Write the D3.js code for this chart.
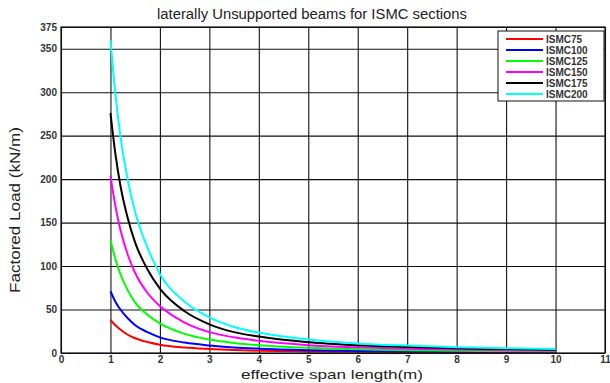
<!DOCTYPE html>
<html>
<head>
<meta charset="utf-8">
<script src="https://cdn.jsdelivr.net/npm/d3@7"></script>
<style>
  body { margin: 0; background: #fff; }
  text { font-family: "Liberation Sans", Arial, sans-serif; }
</style>
</head>
<body>
<svg id="chart" width="610" height="383"></svg>
<script>
// span lengths (m) where the curves were read
var spans = [1, 1.1, 1.2, 1.35, 1.5, 1.75, 2, 2.5, 3, 3.5, 4, 5, 6, 7, 8, 9, 10];

var sectionNames = ["ISMC75", "ISMC100", "ISMC125", "ISMC150", "ISMC175", "ISMC200"];
var sectionColors = ["#ff0000", "#0000ff", "#00ff00", "#ff00ff", "#000000", "#00ffff"];

// factored load (kN/m)
var ismc75  = [38, 32, 27, 21, 17, 12.6, 9.5, 6.3, 4.6, 3.4, 2.6, 1.8, 1.3, 1, 0.8, 0.7, 0.6];
var ismc100 = [71, 59, 50, 40, 32, 24, 18, 12, 8.6, 6.4, 5, 3.3, 2.4, 1.8, 1.5, 1.2, 1];
var ismc125 = [130, 108, 91, 72, 58, 44, 34, 22, 15.5, 11.5, 9, 6, 4.3, 3.2, 2.6, 2.1, 1.8];
var ismc150 = [204, 169, 142, 113, 92, 69, 54, 35, 24, 18, 14, 9, 6.5, 5, 4, 3.3, 2.8];
var ismc175 = [276, 229, 193, 155, 127, 96, 74, 48, 33, 24, 19, 12.5, 9, 7, 5.5, 4.5, 3.6];
var ismc200 = [360, 298, 250, 199, 162, 121, 91, 59, 41, 30, 23.5, 15.5, 11, 8.5, 6.7, 5.5, 4.5];
var seriesValues = [ismc75, ismc100, ismc125, ismc150, ismc175, ismc200];

var xTicks = [0, 1, 2, 3, 4, 5, 6, 7, 8, 9, 10, 11];
var yTicks = [0, 50, 100, 150, 200, 250, 300, 350, 375];

var svg = d3.select("#chart");
var plotLeft = 61, plotRight = 605, plotTop = 27, plotBottom = 353;

var x = d3.scaleLinear().domain([0, 11]).range([plotLeft, plotRight]);
var y = d3.scaleLinear().domain([0, 375]).range([plotBottom, plotTop]);

// grid
svg.append("g")
  .attr("transform", "translate(0," + plotBottom + ")")
  .call(d3.axisBottom(x).tickValues(xTicks).tickSize(-(plotBottom - plotTop)).tickFormat(""))
  .call(function(g) {
    g.select(".domain").remove();
    g.selectAll("line").attr("stroke", "#111").attr("stroke-width", 1.1);
  });
svg.append("g")
  .attr("transform", "translate(" + plotLeft + ",0)")
  .call(d3.axisLeft(y).tickValues(yTicks).tickSize(-(plotRight - plotLeft)).tickFormat(""))
  .call(function(g) {
    g.select(".domain").remove();
    g.selectAll("line").attr("stroke", "#111").attr("stroke-width", 1.1);
  });

// tick labels
svg.append("g")
  .attr("transform", "translate(0," + plotBottom + ")")
  .call(d3.axisBottom(x).tickValues(xTicks).tickSize(0).tickPadding(3).tickFormat(d3.format("d")))
  .call(function(g) {
    g.select(".domain").remove();
    g.selectAll("text").attr("font-size", 10).attr("fill", "#333")
      .attr("font-family", "Liberation Sans, Arial, sans-serif").attr("font-weight", "bold");
  });
svg.append("g")
  .attr("transform", "translate(" + plotLeft + ",0)")
  .call(d3.axisLeft(y).tickValues(yTicks).tickSize(0).tickPadding(4).tickFormat(d3.format("d")))
  .call(function(g) {
    g.select(".domain").remove();
    g.selectAll("text").attr("font-size", 10).attr("fill", "#333")
      .attr("font-family", "Liberation Sans, Arial, sans-serif").attr("font-weight", "bold");
  });

// curves
var line = d3.line()
  .x(function(d) { return x(d[0]); })
  .y(function(d) { return y(d[1]); })
  .curve(d3.curveMonotoneX);

seriesValues.forEach(function(vals, i) {
  svg.append("path")
    .datum(spans.map(function(s, j) { return [s, vals[j]]; }))
    .attr("fill", "none")
    .attr("stroke", sectionColors[i])
    .attr("stroke-width", 2)
    .attr("d", line);
});

// frame
svg.append("rect")
  .attr("x", plotLeft).attr("y", plotTop)
  .attr("width", plotRight - plotLeft).attr("height", plotBottom - plotTop)
  .attr("fill", "none").attr("stroke", "#111").attr("stroke-width", 1.2);

// legend
var legend = svg.append("g").attr("transform", "translate(498,31)");
legend.append("rect")
  .attr("width", 106).attr("height", 70)
  .attr("fill", "#fff").attr("stroke", "#111").attr("stroke-width", 1);
sectionNames.forEach(function(name, i) {
  var yy = 8 + i * 11;
  legend.append("line")
    .attr("x1", 8).attr("x2", 45).attr("y1", yy).attr("y2", yy)
    .attr("stroke", sectionColors[i]).attr("stroke-width", 2);
  legend.append("text")
    .attr("x", 48).attr("y", yy + 4)
    .attr("font-size", 10).attr("fill", "#333").attr("font-weight", "bold")
    .text(name);
});

// titles
svg.append("text")
  .attr("x", 312).attr("y", 19)
  .attr("text-anchor", "middle").attr("font-size", 14).attr("fill", "#222")
  .attr("textLength", 310).attr("lengthAdjust", "spacingAndGlyphs")
  .text("laterally Unsupported beams for ISMC sections");

svg.append("text")
  .attr("x", 332).attr("y", 379)
  .attr("text-anchor", "middle").attr("font-size", 13).attr("fill", "#222")
  .attr("textLength", 182).attr("lengthAdjust", "spacingAndGlyphs")
  .text("effective span length(m)");

svg.append("text")
  .attr("transform", "translate(20,210) rotate(-90)")
  .attr("text-anchor", "middle").attr("font-size", 14).attr("fill", "#222")
  .attr("textLength", 166).attr("lengthAdjust", "spacingAndGlyphs")
  .text("Factored Load (kN/m)");
</script>
</body>
</html>
